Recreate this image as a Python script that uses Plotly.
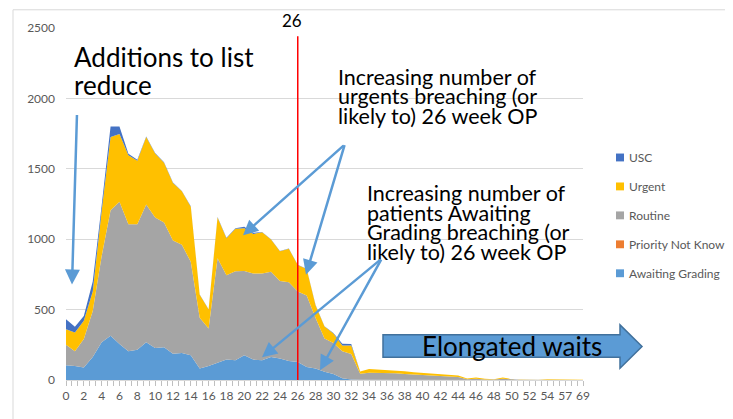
import plotly.graph_objects as go

weeks = ["0", "1", "2", "3", "4", "5", "6", "7", "8", "9",
         "10", "11", "12", "13", "14", "15", "16", "17", "18", "19",
         "20", "21", "22", "23", "24", "25", "26", "27", "28", "29",
         "30", "31", "32", "33", "34", "35", "36", "37", "38", "39",
         "40", "41", "42", "43", "44", "45", "46", "47", "48", "49",
         "50", "51", "52", "53", "54", "55", "57", "63", "69"]

awaiting_grading = [105, 100, 89, 163, 268, 315, 256, 205, 215, 268,
                    228, 233, 187, 191, 175, 82, 100, 125, 146, 140,
                    175, 145, 140, 163, 152, 135, 128, 93, 82, 58,
                    42, 12, 3, 2, 2, 1, 1, 1, 1, 1,
                    1, 1, 0, 0, 0, 0, 0, 0, 0, 0,
                    0, 0, 0, 0, 0, 0, 0, 0, 0]
priority_not_known = [0, 0, 0, 0, 0, 0, 0, 0, 0, 0,
                      0, 0, 0, 0, 0, 0, 0, 0, 0, 0,
                      0, 0, 0, 0, 0, 0, 0, 0, 0, 0,
                      0, 0, 0, 0, 0, 0, 0, 0, 0, 0,
                      0, 0, 0, 0, 0, 0, 0, 0, 0, 0,
                      0, 0, 0, 0, 0, 0, 0, 0, 0]
routine = [145, 105, 203, 327, 612, 890, 1010, 902, 892, 979,
           926, 886, 804, 769, 664, 361, 266, 740, 598, 632,
           599, 612, 617, 606, 552, 560, 501, 507, 358, 237,
           220, 193, 182, 43, 50, 49, 51, 47, 41, 37,
           35, 29, 28, 25, 22, 5, 8, 4, 3, 8,
           3, 2, 1, 1, 2, 1, 1, 0, 0]
urgent = [111, 133, 128, 139, 320, 520, 482, 490, 450, 478,
          454, 424, 408, 380, 392, 163, 135, 289, 263, 302,
          303, 280, 292, 229, 210, 237, 187, 188, 90, 85,
          68, 40, 60, 15, 26, 25, 20, 20, 20, 17,
          14, 15, 10, 10, 10, 5, 10, 4, 3, 10,
          3, 2, 1, 1, 3, 2, 1, 1, 1]
usc = [70, 40, 35, 70, 40, 75, 52, 10, 8, 5,
       4, 3, 3, 3, 3, 2, 2, 4, 3, 4,
       11, 8, 3, 2, 2, 2, 2, 2, 2, 2,
       3, 13, 10, 1, 0, 0, 0, 0, 0, 0,
       0, 0, 0, 0, 0, 0, 0, 0, 0, 0,
       0, 0, 0, 0, 0, 0, 0, 0, 0]

# bottom to top in the stack
series = [
    ("Awaiting Grading", awaiting_grading, "#5B9BD5"),
    ("Priority Not Know", priority_not_known, "#ED7D31"),
    ("Routine", routine, "#A5A5A5"),
    ("Urgent", urgent, "#FFC000"),
    ("USC", usc, "#4472C4"),
]
breach_week = 26

# page pixels of the reference; the page body adds an 8px offset
W, H, PAD = 733, 419, 8
L, R, T, B = 66, 583, 22.5, 380
FONT = "Lato"
GREY = "#595959"
ARROW = "#5B9BD5"


def px(x):
    return (x - L) / (R - L)


def py(y):
    return (B - y) / (B - T)


idx = list(range(len(weeks)))

fig = go.Figure()
for name, vals, col in series:
    fig.add_trace(go.Scatter(
        x=idx, y=vals, name=name, stackgroup="one", mode="lines",
        line=dict(width=0, color=col), fillcolor=col, showlegend=False,
    ))

shapes = []
annotations = []

# chart border (top and left edges visible)
shapes.append(dict(type="line", xref="paper", yref="paper",
                   x0=px(13), x1=px(760), y0=py(4), y1=py(4),
                   line=dict(color="#D9D9D9", width=1)))
shapes.append(dict(type="line", xref="paper", yref="paper",
                   x0=px(13), x1=px(13), y0=py(4), y1=py(440),
                   line=dict(color="#D9D9D9", width=1)))

# 26 week marker
wk = weeks.index(str(breach_week))
shapes.append(dict(type="line", xref="x", yref="paper", x0=wk, x1=wk,
                   y0=0, y1=py(31), line=dict(color="#FF0000", width=1.5)))
annotations.append(dict(xref="paper", yref="paper", x=px(291.5), y=py(15),
                        xanchor="center", yanchor="middle",
                        text=str(breach_week), showarrow=False,
                        font=dict(family=FONT, size=17, color="black")))

# manual legend, top to bottom
for k, (name, vals, col) in enumerate(reversed(series)):
    cy = 154 + k * 29.4
    shapes.append(dict(type="rect", xref="paper", yref="paper",
                       x0=px(616), x1=px(624), y0=py(cy - 4), y1=py(cy + 4),
                       fillcolor=col, line=dict(width=0)))
    annotations.append(dict(xref="paper", yref="paper", x=px(627), y=py(cy),
                            xanchor="left", yanchor="middle", text=name,
                            showarrow=False,
                            font=dict(family=FONT, size=12, color=GREY)))


def add_lines(lines, x, ys, size):
    for txt, yy in zip(lines, ys):
        annotations.append(dict(xref="paper", yref="paper", x=px(x), y=py(yy),
                                xanchor="left", yanchor="middle", text=txt,
                                showarrow=False,
                                font=dict(family=FONT, size=size, color="black")))


add_lines(["Additions to list", "reduce"], 72, [52, 80], 26)
add_lines(["Increasing number of", "urgents breaching (or",
           "likely to) 26 week OP"], 336, [72, 92, 112], 21.5)
add_lines(["Increasing number of", "patients Awaiting",
           "Grading breaching (or", "likely to) 26 week OP"],
          365, [190, 210, 230, 250], 21.5)


def add_arrow(tail, head):
    annotations.append(dict(xref="paper", yref="paper", x=px(head[0]), y=py(head[1]),
                            ax=tail[0] - head[0], ay=tail[1] - head[1],
                            axref="pixel", ayref="pixel", text="",
                            showarrow=True, arrowhead=2, arrowsize=1.2,
                            arrowwidth=2.5, arrowcolor=ARROW, standoff=0))


add_arrow((77, 112), (72, 283))
add_arrow((345, 142), (243, 233))
add_arrow((345, 142), (306, 273))
add_arrow((382, 258), (262, 357))
add_arrow((382, 258), (320, 370))

# block arrow "Elongated waits"
pts = [(383, 334), (620, 334), (620, 324), (642, 346), (620, 368), (620, 357), (383, 357)]
path = "M " + " L ".join(f"{px(x):.5f},{py(y):.5f}" for x, y in pts) + " Z"
shapes.append(dict(type="path", xref="paper", yref="paper", path=path,
                   fillcolor="#5B9BD5", line=dict(color="#41719C", width=1.5)))
annotations.append(dict(xref="paper", yref="paper", x=px(512), y=py(345),
                        xanchor="center", yanchor="middle",
                        text="Elongated waits", showarrow=False,
                        font=dict(family=FONT, size=26, color="black")))

fig.update_layout(
    width=W - PAD, height=H - PAD,
    margin=dict(l=L - PAD, r=W - R, t=T - PAD, b=H - B),
    paper_bgcolor="white", plot_bgcolor="white",
    showlegend=False,
    font=dict(family=FONT, size=12, color=GREY),
    shapes=shapes, annotations=annotations,
    xaxis=dict(range=[0, len(weeks) - 1], tickmode="array",
               tickvals=idx[::2], ticktext=weeks[::2],
               ticks="outside", ticklen=5, tickcolor="#BFBFBF",
               minor=dict(ticks="outside", tickmode="linear", tick0=0, dtick=2 / 3,
                          ticklen=5, tickcolor="#BFBFBF"),
               showline=True, linecolor="#D9D9D9", showgrid=False, zeroline=False,
               tickfont=dict(family=FONT, size=12, color=GREY)),
    yaxis=dict(range=[0, 2500], dtick=500, showgrid=True, gridcolor="#D9D9D9",
               zeroline=False, showline=False, ticks="", ticklabelstandoff=10,
               tickfont=dict(family=FONT, size=12, color=GREY)),
)

fig.write_html("out.html")
